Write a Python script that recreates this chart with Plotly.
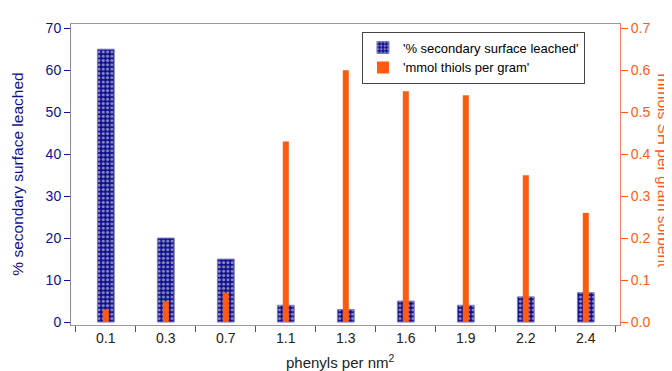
import plotly.graph_objects as go

categories = ["0.1", "0.3", "0.7", "1.1", "1.3", "1.6", "1.9", "2.2", "2.4"]
pct_leached = [65, 20, 15, 4, 3, 5, 4, 6, 7]
mmol_thiols = [0.03, 0.05, 0.07, 0.43, 0.60, 0.55, 0.54, 0.35, 0.26]
left_ticks = [0, 10, 20, 30, 40, 50, 60, 70]
right_ticks = [0.0, 0.1, 0.2, 0.3, 0.4, 0.5, 0.6, 0.7]

NAVY = "#10108c"
ORANGE = "#ff5a10"
FONT = "Liberation Sans"

fig = go.Figure()
fig.add_trace(go.Bar(
    x=categories, y=pct_leached, name="'% secondary surface leached'",
    width=0.28, yaxis="y",
    marker=dict(color=NAVY, line=dict(color="#7a7ac0", width=1),
                pattern=dict(shape=".", fgcolor="white", bgcolor=NAVY,
                             size=4.3, solidity=0.4, fillmode="overlay")),
))
fig.add_trace(go.Bar(
    x=categories, y=mmol_thiols, name="'mmol thiols per gram'",
    width=0.1, yaxis="y2",
    marker=dict(color=ORANGE, line=dict(width=0)),
))

fig.update_layout(
    width=672, height=371,
    margin=dict(l=63, r=60, t=16, b=54),
    paper_bgcolor="white", plot_bgcolor="white",
    barmode="overlay",
    font=dict(family=FONT, size=13, color="black"),
    showlegend=True,
    legend=dict(x=0.53, y=0.975, xanchor="left", yanchor="top",
                bordercolor="#444", borderwidth=1, bgcolor="white",
                font=dict(size=13, color="black"), tracegroupgap=0,
                itemwidth=30),
    xaxis=dict(type="category", range=[-0.58, 8.57], tickson="boundaries",
               ticks="outside", ticklen=6, tickcolor="#555",
               showline=True, linecolor="#999", linewidth=1, mirror=True,
               showgrid=False, tickfont=dict(size=14, color="#222")),
    yaxis=dict(range=[-0.7, 71], tickvals=left_ticks, ticks="outside",
               ticklen=6, tickcolor=NAVY, showline=True, linecolor="#8888aa",
               linewidth=1, showgrid=False, zeroline=False,
               tickfont=dict(size=14, color=NAVY)),
    yaxis2=dict(range=[-0.007, 0.71], tickvals=right_ticks, tickformat=".1f",
                overlaying="y", side="right", ticks="outside", ticklen=7,
                tickcolor=ORANGE, showline=True, linecolor="#f08060",
                linewidth=1, showgrid=False, zeroline=False,
                tickfont=dict(size=14, color=ORANGE)),
    annotations=[
        dict(text="% secondary surface leached", xref="paper", yref="paper",
             x=-0.098, y=0.5, xanchor="center", yanchor="middle",
             textangle=-90, showarrow=False,
             font=dict(size=15.5, color=NAVY)),
        dict(text="mmols SH per gram sorbent", xref="paper", yref="paper",
             x=1.080, y=0.51, xanchor="center", yanchor="middle",
             textangle=90, showarrow=False,
             font=dict(size=15.5, color=ORANGE)),
        dict(text="phenyls per nm<sup>2</sup>", xref="paper", yref="paper",
             x=0.49, y=-0.12, xanchor="center", yanchor="middle",
             showarrow=False,
             font=dict(size=15, color="#222")),
    ],
)

fig.write_html("out.html")
